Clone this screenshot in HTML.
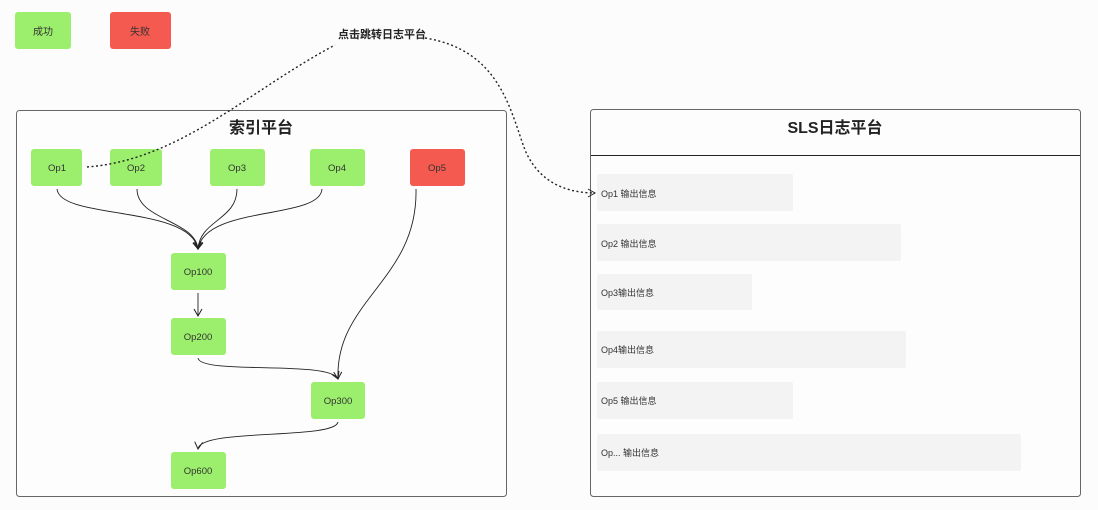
<!DOCTYPE html>
<html><head><meta charset="utf-8"><style>
html,body{margin:0;padding:0;background:#fcfcfc;}
svg{display:block;font-family:"Liberation Sans","Noto Sans CJK SC",sans-serif;}
</style></head><body>
<svg width="1098" height="510" viewBox="0 0 1098 510" xmlns="http://www.w3.org/2000/svg">
<defs>
<marker id="a" markerWidth="10" markerHeight="10" refX="8" refY="5" orient="auto" markerUnits="userSpaceOnUse">
<path d="M1,1 L8,5 L1,9" fill="none" stroke="#222" stroke-width="1"/></marker>
</defs>
<rect width="1098" height="510" fill="#fcfcfc"/>
<rect x="15" y="12" width="56" height="37" rx="3" fill="#9bef6c"/>
<text x="43" y="35" font-size="10" text-anchor="middle" fill="#333">成功</text>
<rect x="110" y="12" width="61" height="37" rx="3" fill="#f45a4f"/>
<text x="140" y="35" font-size="10" text-anchor="middle" fill="#333">失败</text>
<rect x="16.5" y="110.5" width="490" height="386" rx="3" fill="#fdfdfd" stroke="#666" stroke-width="1"/>
<text x="261" y="133" font-size="16" font-weight="bold" text-anchor="middle" fill="#222">索引平台</text>
<rect x="590.5" y="109.5" width="490" height="387" rx="3" fill="#fdfdfd" stroke="#666" stroke-width="1"/>
<line x1="591" y1="155.5" x2="1080" y2="155.5" stroke="#222" stroke-width="1"/>
<text x="835" y="133" font-size="16" font-weight="bold" text-anchor="middle" fill="#222">SLS日志平台</text>
<g fill="#f3f3f3">
<rect x="597" y="174" width="196" height="37" rx="2"/>
<rect x="597" y="224" width="304" height="37" rx="2"/>
<rect x="597" y="274" width="155" height="36" rx="2"/>
<rect x="597" y="331" width="309" height="37" rx="2"/>
<rect x="597" y="382" width="196" height="37" rx="2"/>
<rect x="597" y="434" width="424" height="37" rx="2"/>
</g>
<g font-size="9" fill="#333">
<text x="601" y="197">Op1 输出信息</text>
<text x="601" y="247">Op2 输出信息</text>
<text x="601" y="296">Op3输出信息</text>
<text x="601" y="353">Op4输出信息</text>
<text x="601" y="404">Op5 输出信息</text>
<text x="601" y="456">Op... 输出信息</text>
</g>
<g fill="none" stroke="#222" stroke-width="0.9">
<path d="M57,189 C60,220 190,205 198,249" marker-end="url(#a)"/>
<path d="M137,189 C137,220 195,220 198,249" marker-end="url(#a)"/>
<path d="M237,189 C237,220 200,220 198,249" marker-end="url(#a)"/>
<path d="M322,189 C320,220 205,205 198,249" marker-end="url(#a)"/>
<path d="M198,293 L198,316" marker-end="url(#a)"/>
<path d="M198,358 C200,375 330,360 338,379" marker-end="url(#a)"/>
<path d="M416,189 C418,280 335,300 338,379" marker-end="url(#a)"/>
<path d="M338,422 C335,440 200,428 198,449" marker-end="url(#a)"/>
</g>
<g fill="#9bef6c">
<rect x="31" y="149" width="51" height="37" rx="3"/>
<rect x="110" y="149" width="52" height="37" rx="3"/>
<rect x="210" y="149" width="55" height="37" rx="3"/>
<rect x="310" y="149" width="55" height="37" rx="3"/>
<rect x="171" y="253" width="55" height="37" rx="3"/>
<rect x="171" y="318" width="55" height="37" rx="3"/>
<rect x="311" y="382" width="54" height="37" rx="3"/>
<rect x="171" y="452" width="55" height="37" rx="3"/>
</g>
<rect x="410" y="149" width="55" height="37" rx="3" fill="#f45a4f"/>
<g font-size="9.5" text-anchor="middle" fill="#333">
<text x="57" y="171">Op1</text>
<text x="136" y="171">Op2</text>
<text x="237" y="171">Op3</text>
<text x="337" y="171">Op4</text>
<text x="437" y="171">Op5</text>
<text x="198" y="275">Op100</text>
<text x="198" y="340">Op200</text>
<text x="338" y="404">Op300</text>
<text x="198" y="474">Op600</text>
</g>
<g fill="none" stroke="#222" stroke-width="1.4" stroke-dasharray="2,2.5">
<path d="M87,167 C180,160 250,90 335,45"/>
<path d="M425,38 C500,50 510,110 525,150 C540,185 570,193 595,193" marker-end="url(#a)"/>
</g>
<text x="382" y="38" font-size="11" font-weight="bold" text-anchor="middle" fill="#222">点击跳转日志平台</text>
</svg>
</body></html>
